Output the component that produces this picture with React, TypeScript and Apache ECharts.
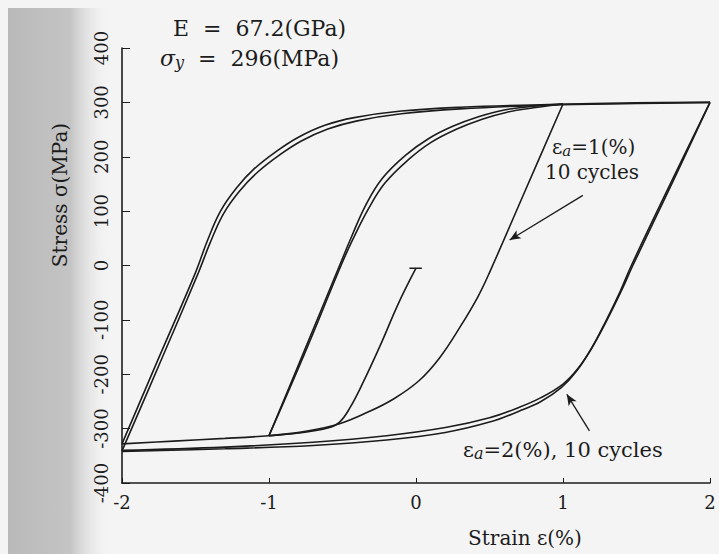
import React, { useEffect, useRef } from "react";
import * as echarts from "echarts";

// ---- data (strain %, stress MPa) ----
const strainTicks = [-2, -1, 0, 1, 2];
const stressTicks = [-400, -300, -200, -100, 0, 100, 200, 300, 400];

// initial monotonic compression from the origin
const initialCurve: number[][] = [
  [0, -5], [-0.12, -70], [-0.24, -145], [-0.36, -215], [-0.45, -262], [-0.52, -288],
  [-0.6, -299], [-0.8, -308], [-1.0, -313], [-1.3, -318], [-1.65, -323], [-2, -328],
];
const originMark: number[][] = [[-0.045, -5], [0.04, -5]];

// eps_a = 2 %, ascending branches (two cycles)
const bigUpA: number[][] = [
  [-2, -328], [-1.75, -170], [-1.5, -13], [-1.42, 45], [-1.33, 100], [-1.22, 143],
  [-1.1, 178], [-0.95, 210], [-0.8, 236], [-0.62, 258], [-0.42, 272], [-0.1, 284],
  [0.3, 291], [0.9, 296], [1.5, 299], [2, 300],
];
const bigUpB: number[][] = [
  [-2, -341], [-1.74, -178], [-1.48, -13], [-1.4, 42], [-1.31, 95], [-1.2, 137],
  [-1.08, 171], [-0.93, 203], [-0.78, 229], [-0.6, 251], [-0.4, 266], [-0.1, 279],
  [0.3, 288], [0.9, 295], [1.5, 298], [2, 300],
];
// eps_a = 2 %, descending branches (two cycles)
const bigDownC: number[][] = [
  [2, 300], [1.74, 150], [1.475, 0], [1.4, -45], [1.3, -100], [1.2, -150], [1.1, -190],
  [1.0, -218], [0.85, -243], [0.7, -261], [0.5, -280], [0.2, -298], [-0.2, -313],
  [-0.7, -325], [-1.3, -334], [-2, -340],
];
const bigDownD: number[][] = [
  [2, 300], [1.73, 150], [1.465, 0], [1.39, -47], [1.29, -103], [1.19, -154], [1.09, -195],
  [0.99, -224], [0.85, -250], [0.7, -268], [0.5, -288], [0.2, -307], [-0.2, -321],
  [-0.7, -331], [-1.3, -337], [-2, -342],
];

// eps_a = 1 %, ascending branches
const smallUpE: number[][] = [
  [-1, -313], [-0.76, -157], [-0.52, 0], [-0.44, 52], [-0.34, 112], [-0.23, 160],
  [-0.07, 203], [0.09, 234], [0.25, 256], [0.43, 274], [0.6, 286], [0.8, 293], [1, 297],
];
const smallUpF: number[][] = [
  [-1, -313], [-0.75, -157], [-0.51, 0], [-0.43, 48], [-0.32, 106], [-0.21, 152],
  [-0.05, 195], [0.1, 226], [0.27, 250], [0.45, 269], [0.62, 282], [0.8, 290], [1, 297],
];
// eps_a = 1 %, descending branch
const smallDown: number[][] = [
  [1, 297], [0.75, 142], [0.5, -13], [0.42, -58], [0.3, -113], [0.16, -170], [0.02, -212],
  [-0.15, -245], [-0.33, -270], [-0.52, -291], [-0.75, -305], [-1, -313],
];

// annotation arrows (tail -> head), data coordinates
const arrow1: number[][] = [[1.135, 129], [0.637, 47]];
const arrow2: number[][] = [[1.18, -304], [1.026, -237]];

const FONT = "DejaVu Serif";
const INK = "#1c1c1c";

export default function App() {
  const ref = useRef<HTMLDivElement>(null);
  useEffect(() => {
    if (!ref.current) return;
    const chart = echarts.init(ref.current, undefined, { renderer: "svg" });
    const lineSeries = (data: number[][], width = 1.6) => ({
      type: "line",
      data,
      symbol: "none",
      smooth: 0.4,
      lineStyle: { color: INK, width },
      silent: true,
    });
    const arrowSeries = (pts: number[][]) => ({
      type: "line",
      data: [],
      markLine: {
        silent: true,
        animation: false,
        symbol: ["none", "arrow"],
        symbolSize: [7, 11],
        label: { show: false },
        lineStyle: { color: INK, width: 1.3, type: "solid" },
        data: [[{ coord: pts[0] }, { coord: pts[1] }]],
      },
    });
    chart.setOption({
      animation: false,
      backgroundColor: "#f4f4f4",
      grid: { left: 122, right: 9, top: 48, bottom: 71 },
      xAxis: {
        type: "value",
        min: strainTicks[0],
        max: strainTicks[strainTicks.length - 1],
        interval: 1,
        axisLine: { onZero: false, lineStyle: { color: INK, width: 1.6 } },
        axisTick: { inside: true, length: 5, lineStyle: { color: INK } },
        axisLabel: { fontFamily: FONT, fontSize: 18, color: INK, margin: 10 },
        splitLine: { show: false },
      },
      yAxis: {
        type: "value",
        min: stressTicks[0],
        max: stressTicks[stressTicks.length - 1],
        interval: 100,
        axisLine: { show: true, onZero: false, lineStyle: { color: INK, width: 1.6 } },
        axisTick: { show: true, inside: true, length: 8, lineStyle: { color: INK } },
        axisLabel: { fontFamily: FONT, fontSize: 18, color: INK, margin: 12, rotate: 90 },
        splitLine: { show: false },
      },
      graphic: [
        {
          type: "rect",
          z: -10,
          shape: { x: 8, y: 8, width: 104, height: 546 },
          style: {
            fill: {
              type: "linear", x: 0, y: 0, x2: 1, y2: 0,
              colorStops: [
                { offset: 0, color: "#b9b9b9" },
                { offset: 0.6, color: "#c4c4c4" },
                { offset: 1, color: "rgba(244,244,244,0)" },
              ],
            },
          },
          silent: true,
        },
        {
          type: "text", x: 173, y: 28,
          style: { text: "E  =  67.2(GPa)", font: `22px "${FONT}"`, fill: INK, textVerticalAlign: "middle" },
        },
        {
          type: "text", x: 160, y: 58,
          style: {
            text: "{s|σ}{y|y}  =  296(MPa)",
            font: `22px "${FONT}"`, fill: INK, textVerticalAlign: "middle",
            rich: {
              s: { fontFamily: FONT, fontSize: 22, fontStyle: "italic", fill: INK },
              y: { fontFamily: FONT, fontSize: 16, fontStyle: "italic", fill: INK, verticalAlign: "bottom", padding: [8, 0, 0, 0] },
            },
          },
        },
        {
          type: "text", x: 552, y: 147,
          style: {
            text: "{e|ε}{a|a}=1(%)",
            font: `20px "${FONT}"`, fill: INK, textVerticalAlign: "middle",
            rich: {
              e: { fontFamily: FONT, fontSize: 20, fill: INK },
              a: { fontFamily: FONT, fontSize: 15, fontStyle: "italic", fill: INK, verticalAlign: "bottom", padding: [7, 0, 0, 0] },
            },
          },
        },
        {
          type: "text", x: 545, y: 172,
          style: { text: "10 cycles", font: `20px "${FONT}"`, fill: INK, textVerticalAlign: "middle" },
        },
        {
          type: "text", x: 463, y: 450,
          style: {
            text: "{e|ε}{a|a}=2(%), 10 cycles",
            font: `21px "${FONT}"`, fill: INK, textVerticalAlign: "middle",
            rich: {
              e: { fontFamily: FONT, fontSize: 21, fill: INK },
              a: { fontFamily: FONT, fontSize: 16, fontStyle: "italic", fill: INK, verticalAlign: "bottom", padding: [7, 0, 0, 0] },
            },
          },
        },
        {
          type: "text", x: 525, y: 538,
          style: { text: "Strain ε(%)", font: `20px "${FONT}"`, fill: INK, textAlign: "center", textVerticalAlign: "middle" },
        },
        {
          type: "text", x: 60, y: 195, rotation: Math.PI / 2,
          style: { text: "Stress σ(MPa)", font: `20px "${FONT}"`, fill: INK, textAlign: "center", textVerticalAlign: "middle" },
        },
      ],
      series: [
        lineSeries(initialCurve),
        lineSeries(originMark, 1.4),
        lineSeries(bigUpA),
        lineSeries(bigUpB),
        lineSeries(bigDownC),
        lineSeries(bigDownD),
        lineSeries(smallUpE),
        lineSeries(smallUpF),
        lineSeries(smallDown),
        arrowSeries(arrow1),
        arrowSeries(arrow2),
      ],
    });
    return () => chart.dispose();
  }, []);
  return (
    <div
      ref={ref}
      style={{ position: "absolute", left: 0, top: 0, width: 719, height: 554 }}
    />
  );
}
